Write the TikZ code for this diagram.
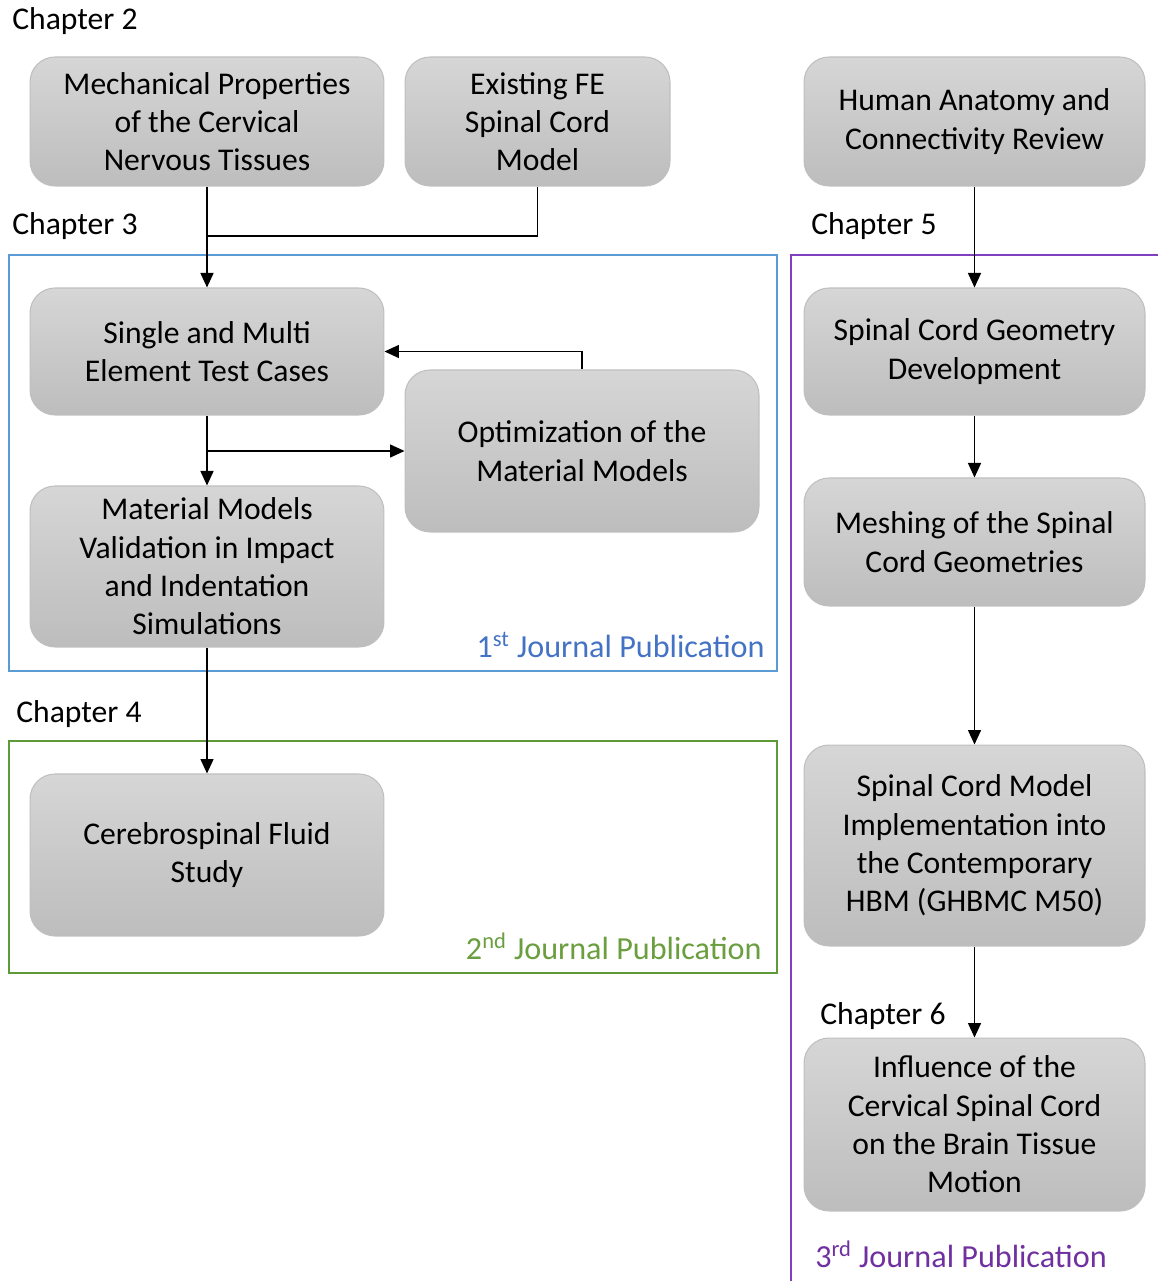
\documentclass[tikz,border=0pt]{standalone}
\usepackage{fontspec}
\setmainfont{Carlito}
\usepackage{tikz}
\usetikzlibrary{arrows.meta}
\usetikzlibrary{positioning}
\definecolor{boxline}{HTML}{BFBFBF}
\definecolor{boxtop}{HTML}{D6D6D6}
\definecolor{boxbot}{HTML}{BDBDBD}
\definecolor{pubblue}{HTML}{5B9BD5}
\definecolor{pubbluetxt}{HTML}{4472C4}
\definecolor{pubgreen}{HTML}{5E9A3A}
\definecolor{pubgreentxt}{HTML}{6A9E3F}
\definecolor{pubpurple}{HTML}{7F3FBF}
\definecolor{pubpurpletxt}{HTML}{7030A0}
\tikzset{stage/.style = {draw = boxline, line width = 0.6pt, rounded corners = 0.5cm,
    top color = boxtop, bottom color = boxbot, align = center, inner sep = 0,
    font = \fontsize{18}{21.8}\selectfont}}
\tikzset{chap/.style = {anchor = west, inner sep = 0, font = \fontsize{18}{20}\selectfont}}
\tikzset{pub/.style = {inner sep = 0, font = \fontsize{18.3}{20}\selectfont}}
\tikzset{flow/.style = {line width = 0.85pt, -{Triangle[length = 2.9mm, width = 2.6mm]}}}
\tikzset{link/.style = {line width = 0.85pt}}
\tikzset{frame/.style = {line width = 1.6pt}}

\begin{document}
\begin{tikzpicture}[x = 0.02cm, y = -0.02cm]
    \useasboundingbox (0, 0) rectangle (1157, 1281);
    % publication frames
    \draw [frame, pubblue] (9, 255) rectangle (777, 671);
    \draw [frame, pubgreen] (9, 741) rectangle (777, 973);
    \draw [frame, pubpurple] (791, 1300) -- (791, 255) -- (1170, 255);
    % stages
    \node [stage, minimum width = 7.08cm, minimum height = 2.58cm] (mech) at (207, 121.5)
      {Mechanical Properties\\of the Cervical\\Nervous Tissues};
    \node [stage, minimum width = 5.30cm, minimum height = 2.58cm] (fem) at (537.5, 121.5)
      {Existing FE\\Spinal Cord\\Model};
    \node [stage, minimum width = 6.82cm, minimum height = 2.58cm] (anat) at (974.5, 121.5)
      {Human Anatomy and\\Connectivity Review};
    \node [stage, minimum width = 7.08cm, minimum height = 2.54cm] (tests) at (207, 351.5)
      {Single and Multi\\Element Test Cases};
    \node [stage, minimum width = 7.08cm, minimum height = 3.24cm] (optim) at (582, 451)
      {Optimization of the\\Material Models};
    \node [stage, minimum width = 7.08cm, minimum height = 3.22cm] (valid) at (207, 566.5)
      {Material Models\\Validation in Impact\\and Indentation\\Simulations};
    \node [stage, minimum width = 7.08cm, minimum height = 3.24cm] (csf) at (207, 855)
      {Cerebrospinal Fluid\\Study};
    \node [stage, minimum width = 6.82cm, minimum height = 2.54cm] (geom) at (974.5, 351.5)
      {Spinal Cord Geometry\\Development};
    \node [stage, minimum width = 6.82cm, minimum height = 2.56cm] (mesh) at (974.5, 542)
      {Meshing of the Spinal\\Cord Geometries};
    \node [stage, minimum width = 6.82cm, minimum height = 4.02cm] (hbm) at (974.5, 845.5)
      {Spinal Cord Model\\Implementation into\\the Contemporary\\HBM (GHBMC M50)};
    \node [stage, minimum width = 6.82cm, minimum height = 3.46cm] (brain) at (974.5, 1124.5)
      {Influence of the\\Cervical Spinal Cord\\on the Brain Tissue\\Motion};
    % chapter labels
    \node [chap] (ch2) at (12, 21) {Chapter 2};
    \node [chap] (ch3) at (12, 226) {Chapter 3};
    \node [chap] (ch4) at (16, 714) {Chapter 4};
    \node [chap] (ch5) at (811, 226) {Chapter 5};
    \node [chap] (ch6) at (820, 1016) {Chapter 6};
    % publication labels
    \node [pub, anchor = east, pubbluetxt] (pub1) at (765, 645)
      {1\textsuperscript{st} Journal Publication};
    \node [pub, anchor = east, pubgreentxt] (pub2) at (762, 946)
      {2\textsuperscript{nd} Journal Publication};
    \node [pub, anchor = west, pubpurpletxt] (pub3) at (815, 1254)
      {3\textsuperscript{rd} Journal Publication};
    % connectors
    \coordinate (join) at (207, 236);
    \coordinate (split) at (207, 451);
    \draw [flow] (mech) -- (tests);
    \draw [link] (fem.south) |- (join);
    \draw [flow] (optim.north) |- (tests.east);
    \draw [flow] (tests) -- (valid);
    \draw [flow] (split) -- (optim.west);
    \draw [flow] (valid) -- (csf);
    \draw [flow] (anat) -- (geom);
    \draw [flow] (geom) -- (mesh);
    \draw [flow] (mesh) -- (hbm);
    \draw [flow] (hbm) -- (brain);
  \end{tikzpicture}
\end{document}
